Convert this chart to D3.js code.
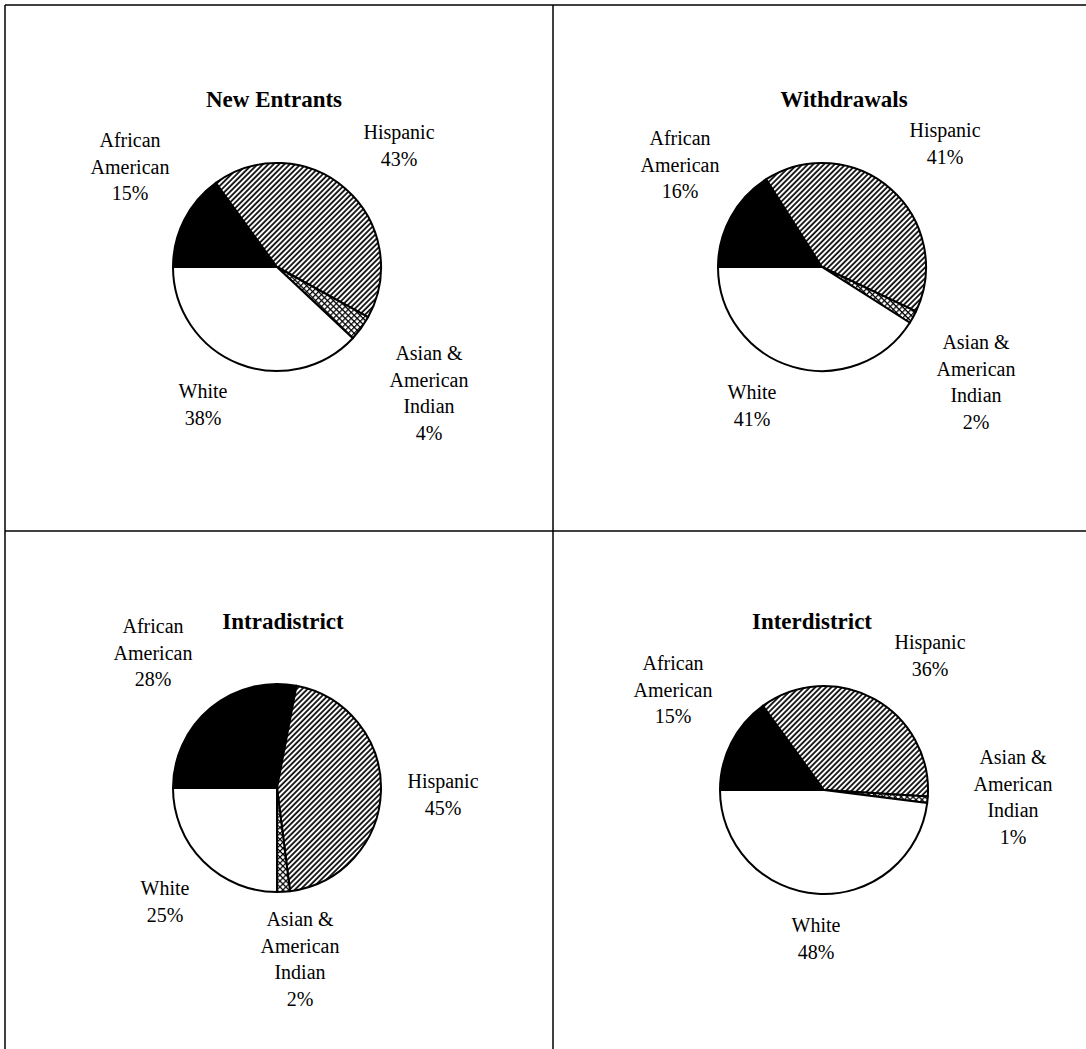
<!DOCTYPE html>
<html>
<head>
<meta charset="utf-8">
<script src="https://cdn.jsdelivr.net/npm/d3@7"></script>
<style>
  html, body { margin: 0; padding: 0; background: #fff; }
  text { font-family: "Liberation Serif", "Times New Roman", serif; fill: #000; }
  .title { font-weight: bold; font-size: 23px; }
  .lbl { font-size: 20px; }
</style>
</head>
<body>
<script>
// Four pies: ethnic make-up of student movement
var panels     = ["New Entrants", "Withdrawals", "Intradistrict", "Interdistrict"];
var categories = ["African American", "Hispanic", "Asian & American Indian", "White"];
var newEntrants   = [15, 43, 4, 38];
var withdrawals   = [16, 41, 2, 41];
var intradistrict = [28, 45, 2, 25];
var interdistrict = [15, 36, 1, 48];

(function() {
  var width = 1086, height = 1049,
      radius = 104;

  var series = [newEntrants, withdrawals, intradistrict, interdistrict];

  // label lines per category (word breaks as in the original)
  var labelLines = [["African", "American"], ["Hispanic"], ["Asian &", "American", "Indian"], ["White"]];

  // layout: pie centres, title centres, label offsets from pie centre
  var layout = [
    { cx: 277, cy: 267, tx: 274, ty: 99,
      off: [[-147, -127], [122, -135], [152, 86], [-74, 124]] },
    { cx: 822, cy: 267, tx: 844, ty: 99,
      off: [[-142, -129], [123, -137], [154, 75], [-70, 125]] },
    { cx: 277, cy: 788, tx: 283, ty: 621,
      off: [[-124, -162], [166, -7], [23, 131], [-112, 100]] },
    { cx: 824, cy: 790, tx: 812, ty: 621,
      off: [[-151, -127], [106, -148], [189, -33], [-8, 135]] }
  ];

  var svg = d3.select("body").append("svg")
      .attr("width", width)
      .attr("height", height);

  var defs = svg.append("defs");

  var diag = defs.append("pattern")
      .attr("id", "diag")
      .attr("patternUnits", "userSpaceOnUse")
      .attr("width", 3.8).attr("height", 3.8)
      .attr("patternTransform", "rotate(45)");
  diag.append("rect").attr("width", 3.8).attr("height", 3.8).attr("fill", "#fff");
  diag.append("line")
      .attr("x1", 1).attr("y1", 0).attr("x2", 1).attr("y2", 3.8)
      .attr("stroke", "#000").attr("stroke-width", 1.7);

  var cross = defs.append("pattern")
      .attr("id", "cross")
      .attr("patternUnits", "userSpaceOnUse")
      .attr("width", 4.2).attr("height", 4.2)
      .attr("patternTransform", "rotate(45)");
  cross.append("rect").attr("width", 4.2).attr("height", 4.2).attr("fill", "#fff");
  cross.append("path")
      .attr("d", "M0.6,0V4.2M0,0.6H4.2")
      .attr("stroke", "#000").attr("stroke-width", 1.2);

  var fills = ["#000", "url(#diag)", "url(#cross)", "#fff"];

  // frame
  var frame = svg.append("g")
      .attr("stroke", "#000")
      .attr("stroke-width", 1.5)
      .attr("fill", "none");
  frame.append("line").attr("x1", 5).attr("y1", 5).attr("x2", width).attr("y2", 5);
  frame.append("line").attr("x1", 5).attr("y1", 5).attr("x2", 5).attr("y2", height);
  frame.append("line").attr("x1", 553).attr("y1", 5).attr("x2", 553).attr("y2", height);
  frame.append("line").attr("x1", 5).attr("y1", 531).attr("x2", width).attr("y2", 531);

  var pie = d3.pie()
      .sort(null)
      .startAngle(-Math.PI / 2)
      .endAngle(Math.PI * 1.5);

  var arc = d3.arc().innerRadius(0).outerRadius(radius);

  panels.forEach(function(name, i) {
    var L = layout[i];
    var values = series[i];

    svg.append("text")
        .attr("class", "title")
        .attr("x", L.tx)
        .attr("y", L.ty)
        .attr("dy", "0.35em")
        .attr("text-anchor", "middle")
        .text(name);

    var g = svg.append("g")
        .attr("transform", "translate(" + L.cx + "," + L.cy + ")");

    g.selectAll("path")
        .data(pie(values))
        .enter().append("path")
        .attr("d", arc)
        .attr("fill", function(d, j) { return fills[j]; })
        .attr("stroke", "#000")
        .attr("stroke-width", 2)
        .attr("stroke-linejoin", "round");

    values.forEach(function(v, j) {
      var lines = labelLines[j].concat([v + "%"]);
      var t = g.append("text")
          .attr("class", "lbl")
          .attr("text-anchor", "middle")
          .attr("x", L.off[j][0])
          .attr("y", L.off[j][1]);
      lines.forEach(function(s, k) {
        t.append("tspan")
            .attr("x", L.off[j][0])
            .attr("y", L.off[j][1] + k * 26.5)
            .attr("dy", "0.35em")
            .text(s);
      });
    });
  });
})();
</script>
</body>
</html>
